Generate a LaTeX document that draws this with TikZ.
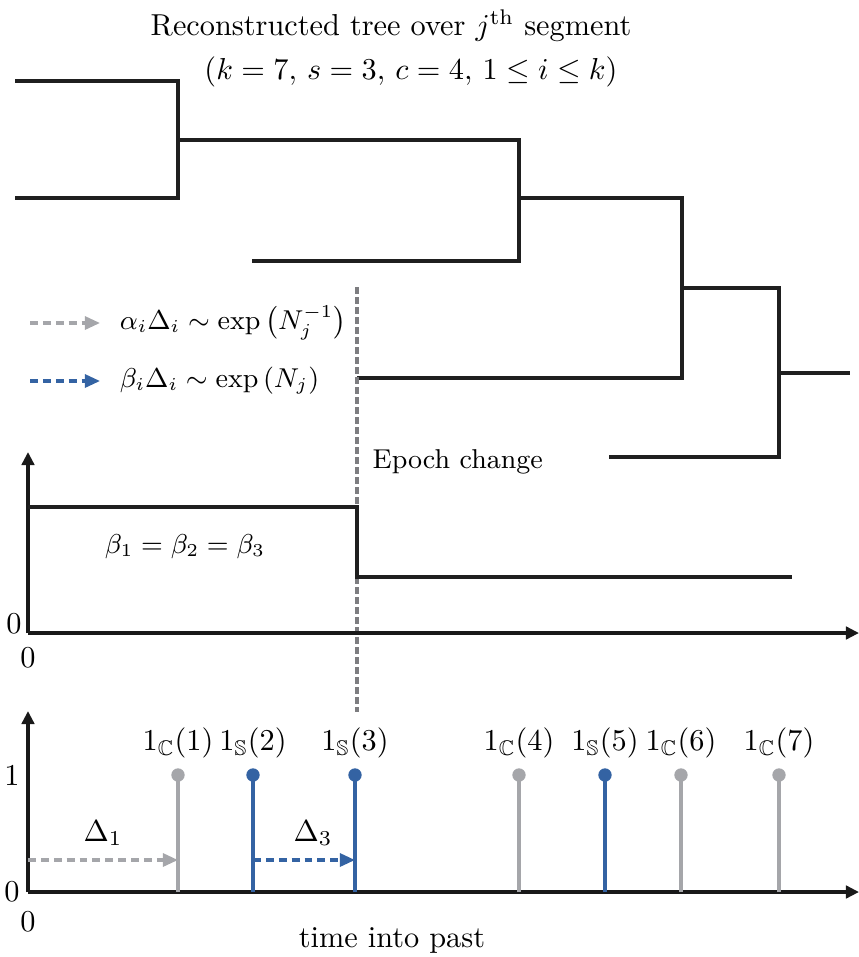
\documentclass[tikz,border=0pt]{standalone}
\definecolor{coalBlue}{RGB}{52,99,163}
\definecolor{coalGray}{RGB}{165,166,170}
\definecolor{epochGray}{RGB}{125,125,128}
\usepackage{amsmath,amssymb,amsfonts}
\usepackage{tikz}
\usetikzlibrary{arrows.meta,positioning,calc}

\begin{document}
\begin{tikzpicture}[x=0.0116cm,y=-0.0116cm,
    branch/.style={line width=1pt,black!88},
    axis/.style={line width=1.15pt,black!90,-{Triangle[length=4.3pt,width=4.1pt]}},
    stem/.style={line width=1pt},
    dot/.style={circle,inner sep=0pt,minimum size=4.4pt},
    gap/.style={line width=1.05pt,dash pattern=on 2.6pt off 1.65pt,
      -{Triangle[length=5pt,width=4.3pt]}},
    note/.style={font=\fontsize{9}{11}\selectfont}]
  \useasboundingbox (0,0) rectangle (859,957);
  % title
  \node (title) at (391,26) {Reconstructed tree over $j^{\text{th}}$ segment};
  \node (params) at (411,72) {$(k=7,\, s=3,\, c=4,\, 1\le i\le k)$};
  % reconstructed tree
  \draw[branch] (15,81) -| (178,198) -- (15,198);
  \draw[branch] (178,140) -| (519,261) -- (252,261);
  \draw[branch] (519,198) -| (682,378) -- (357,378);
  \draw[branch] (682,288) -| (779,457) -- (609,457);
  \draw[branch] (779,373) -- (850,373);
  % legend
  \coordinate (la) at (30,323);
  \coordinate (lb) at (30,381);
  \draw[gap,coalGray] (la) -- ++(70,0) coordinate (la2);
  \draw[gap,coalBlue] (lb) -- ++(70,0) coordinate (lb2);
  \node[note,right=3pt of la2] (leg1) {$\alpha_i\Delta_i \sim \exp\left(N_j^{-1}\right)$};
  \node[note,right=3pt of lb2] (leg2) {$\beta_i\Delta_i \sim \exp\left(N_j\right)$};
  % epoch change
  \draw[epochGray,line width=1pt,dash pattern=on 2.3pt off 1pt] (357,287) -- (357,712);
  \node[note,anchor=west] (epoch) at (362,462) {Epoch change};
  % population size plot
  \coordinate (o1) at (28,633);
  \draw[axis] (o1) -- (28,452);
  \draw[axis] (o1) -- (859,633);
  \node (z1y) at (14,624) {0};
  \node (z1x) at (28,658) {0};
  \draw[branch] (28,507) -- (357,507) -- (357,577) -- (792,577);
  \node[note] (betas) at (185,547) {$\beta_1=\beta_2=\beta_3$};
  % event indicators
  \coordinate (o2) at (28,892);
  \draw[axis] (o2) -- (28,711);
  \draw[axis] (o2) -- (859,892);
  \node (one) at (12,775) {1};
  \node (z2y) at (12,892) {0};
  \node (z2x) at (28,922) {0};
  \foreach \xx/\col/\set/\i in {178/coalGray/C/1,253/coalBlue/S/2,355/coalBlue/S/3,
      519/coalGray/C/4,605/coalBlue/S/5,681/coalGray/C/6,779/coalGray/C/7}{
    \coordinate (b\i) at (\xx,892);
    \node[dot,fill=\col] (d\i) at (\xx,775) {};
    \draw[stem,\col] (b\i) -- (d\i.center);
    \node (l\i) at (\xx,743) {$1_{\mathbb{\set}}(\i)$};
  }
  \draw[gap,coalGray] (28,860) -- (178,860);
  \draw[gap,coalBlue] (253,860) -- (355,860);
  \node (del1) at (103,833) {$\Delta_1$};
  \node (del3) at (313,833) {$\Delta_3$};
  \node (xlab) at (392,940) {time into past};
\end{tikzpicture}
\end{document}
